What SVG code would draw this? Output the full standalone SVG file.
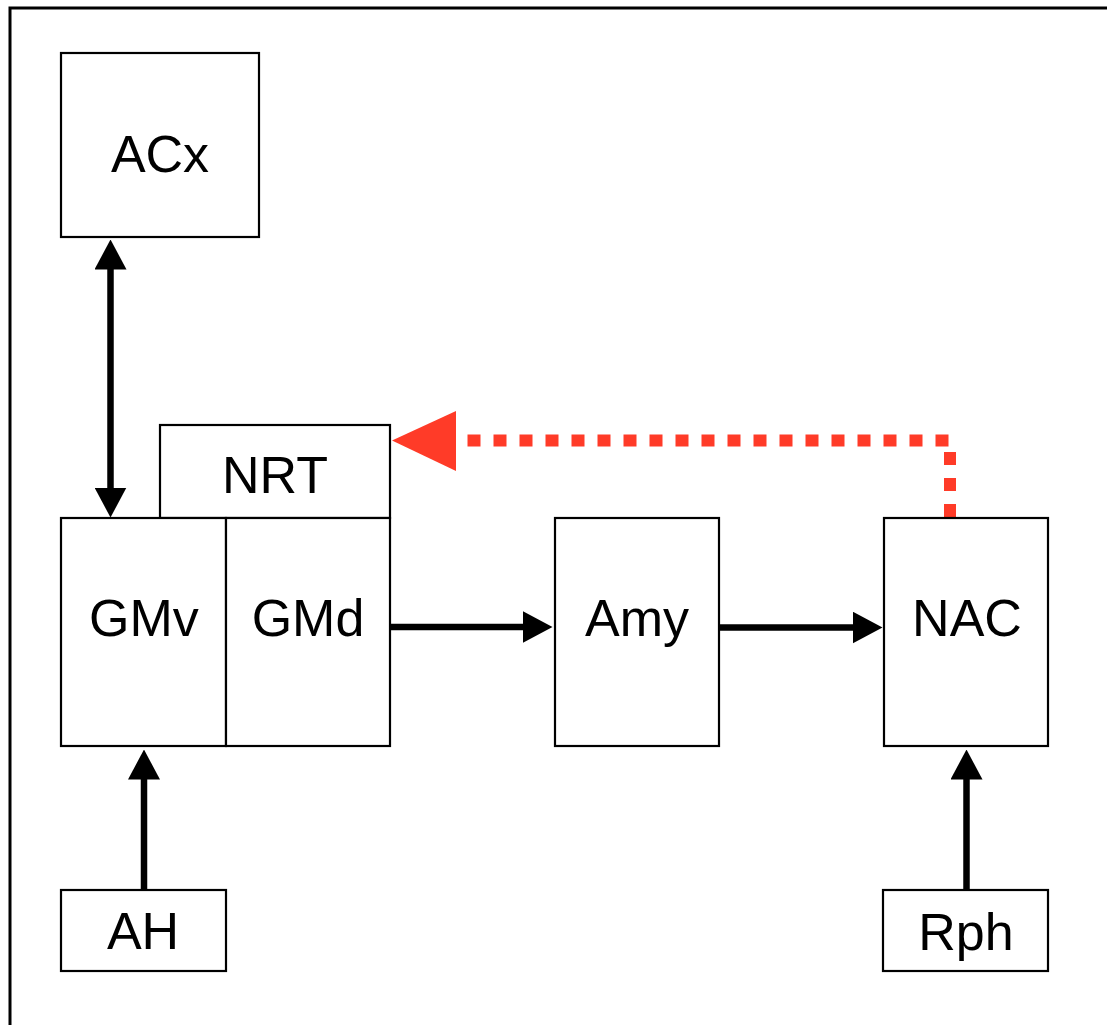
<svg xmlns="http://www.w3.org/2000/svg" width="1107" height="1025" viewBox="0 0 1107 1025">
<defs>
<style>
.box{fill:#fff;stroke:#000;stroke-width:2.2}
.lbl{font-family:"Liberation Sans",Arial,sans-serif;font-size:52px;fill:#000;text-anchor:middle}
.edge{stroke:#000;stroke-width:6.5;fill:none}
.red{stroke:#ff3b28;stroke-width:12;fill:none;stroke-dasharray:13 13}
</style>
<marker id="ah" viewBox="0 0 30 32" refX="0.5" refY="16" markerWidth="30" markerHeight="32" markerUnits="userSpaceOnUse" orient="auto-start-reverse">
<path d="M0,0 L30,16 L0,32 Z" fill="#000"/>
</marker>
</defs>
<rect x="10" y="8" width="1200" height="1100" fill="#fff" stroke="#000" stroke-width="3"/>
<g id="connectors">
<line class="edge" x1="110.5" y1="269" x2="110.5" y2="488" marker-start="url(#ah)" marker-end="url(#ah)"/>
<line class="edge" x1="391" y1="627" x2="523" y2="627" marker-end="url(#ah)"/>
<line class="edge" x1="720" y1="627.5" x2="853" y2="627.5" marker-end="url(#ah)"/>
<line class="edge" x1="144" y1="890" x2="144" y2="779" marker-end="url(#ah)"/>
<line class="edge" x1="966.5" y1="890" x2="966.5" y2="779" marker-end="url(#ah)"/>
<path class="red" d="M950,517 L950,440.5 L456,440.5"/>
<path d="M392,440.5 L456,411 L456,471 Z" fill="#ff3b28"/>
</g>
<g id="node-acx">
<rect class="box" x="61" y="53" width="198" height="184"/>
<text class="lbl" x="160" y="172">ACx</text>
</g>
<g id="node-nrt">
<rect class="box" x="160" y="425" width="230" height="93"/>
<text class="lbl" x="275" y="493">NRT</text>
</g>
<g id="node-gmv">
<rect class="box" x="61" y="518" width="165" height="228"/>
<text class="lbl" x="144" y="636">GMv</text>
</g>
<g id="node-gmd">
<rect class="box" x="226" y="518" width="164" height="228"/>
<text class="lbl" x="308" y="636">GMd</text>
</g>
<g id="node-amy">
<rect class="box" x="555" y="518" width="164" height="228"/>
<text class="lbl" x="637" y="636">Amy</text>
</g>
<g id="node-nac">
<rect class="box" x="884" y="518" width="164" height="228"/>
<text class="lbl" x="967" y="636">NAC</text>
</g>
<g id="node-ah">
<rect class="box" x="61" y="890" width="165" height="81"/>
<text class="lbl" x="143" y="949">AH</text>
</g>
<g id="node-rph">
<rect class="box" x="883" y="890" width="165" height="81"/>
<text class="lbl" x="966" y="950">Rph</text>
</g>
</svg>
